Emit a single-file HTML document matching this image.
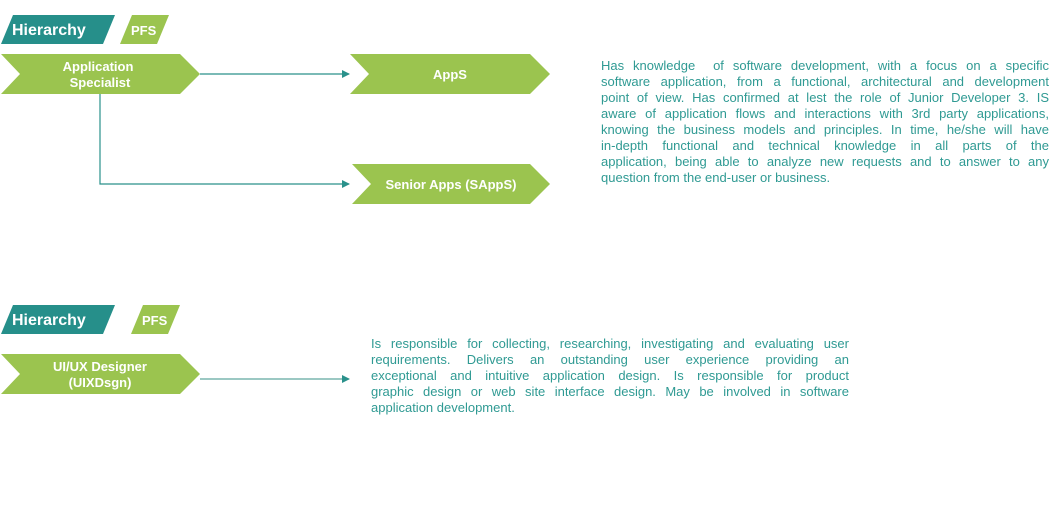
<!DOCTYPE html>
<html><head><meta charset="utf-8"><style>
body{margin:0;width:1051px;height:515px;background:#fff;position:relative;overflow:hidden;font-family:"Liberation Sans",Arial,sans-serif}
svg{position:absolute;left:0;top:0}
.t{position:absolute;font-size:13px;line-height:16px;color:#2f9a93}
.t div{text-align:justify;text-align-last:justify;white-space:nowrap;height:16px}
.t div.l{text-align-last:left}
</style></head><body>
<svg width="1051" height="515">
<defs><marker id="a" markerWidth="8" markerHeight="8" refX="7" refY="4" orient="auto" markerUnits="userSpaceOnUse"><path d="M0,0 L8,4 L0,8 z" fill="#2a918b"/></marker></defs>
<g fill="#268f8a"><polygon points="1,44 13,15 115,15 103,44"/><polygon points="1,334 13,305 115,305 103,334"/></g>
<g fill="#9bc44f"><polygon points="120,44 132,15 169,15 157,44"/><polygon points="131,334 143,305 180,305 168,334"/>
<polygon points="1,54 180,54 200,74 180,94 1,94 20,74"/>
<polygon points="350,54 530,54 550,74 530,94 350,94 369,74"/>
<polygon points="352,164 530,164 550,184 530,204 352,204 371,184"/>
<polygon points="1,354 180,354 200,374 180,394 1,394 20,374"/></g>
<g stroke="#2a918b" stroke-width="1.2" fill="none">
<line x1="200" y1="74" x2="349" y2="74" marker-end="url(#a)"/>
<polyline points="100,94 100,184 349,184" marker-end="url(#a)"/>
<line x1="200" y1="379" x2="349" y2="379" stroke="#5fa89f" marker-end="url(#a)"/></g>
<g fill="#fff" font-weight="bold" font-family="Liberation Sans,Arial,sans-serif">
<text x="12" y="35" font-size="16">Hierarchy</text><text x="12" y="325" font-size="16">Hierarchy</text>
<text x="131" y="35" font-size="13">PFS</text><text x="142" y="325" font-size="13">PFS</text>
<g font-size="13" text-anchor="middle"><text x="98" y="71">Application</text><text x="100" y="87">Specialist</text>
<text x="450" y="79">AppS</text><text x="451" y="189">Senior Apps (SAppS)</text>
<text x="100" y="371">UI/UX Designer</text><text x="100" y="387">(UIXDsgn)</text></g></g>
</svg>
<div class="t" style="left:601px;top:58px;width:448px">
<div>Has knowledge&nbsp; of software development, with a focus on a specific</div>
<div>software application, from a functional, architectural and development</div>
<div>point of view. Has confirmed at lest the role of Junior Developer 3. IS</div>
<div>aware of application flows and interactions with 3rd party applications,</div>
<div>knowing the business models and principles. In time, he/she will have</div>
<div>in-depth functional and technical knowledge in all parts of the</div>
<div>application, being able to analyze new requests and to answer to any</div>
<div class="l">question from the end-user or business.</div>
</div>
<div class="t" style="left:371px;top:336px;width:478px">
<div>Is responsible for collecting, researching, investigating and evaluating user</div>
<div>requirements. Delivers an outstanding user experience providing an</div>
<div>exceptional and intuitive application design. Is responsible for product</div>
<div>graphic design or web site interface design. May be involved in software</div>
<div class="l">application development.</div>
</div>
</body></html>
